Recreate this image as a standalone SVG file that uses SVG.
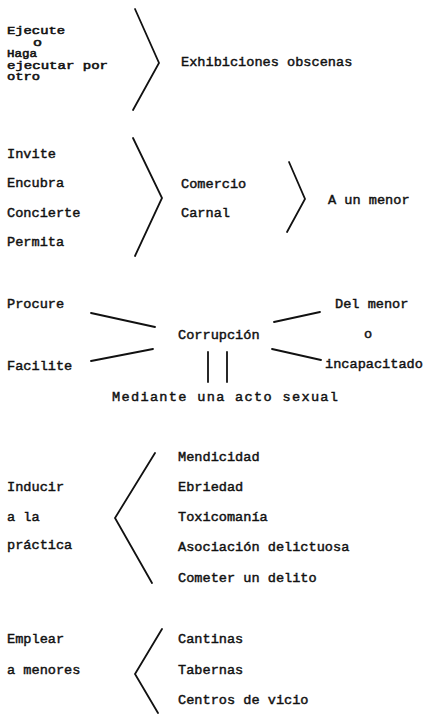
<svg xmlns="http://www.w3.org/2000/svg" width="436" height="714" viewBox="0 0 436 714">
<style>
text{font-family:"Liberation Mono","DejaVu Sans Mono",monospace;font-size:13.6px;fill:#111;stroke:#111;stroke-width:0.45}
text.sm{font-size:10px;stroke-width:0.5}
.ln{fill:none;stroke:#111;stroke-width:1.8;stroke-linecap:round;stroke-linejoin:miter}
</style>
<rect width="436" height="714" fill="#fff"/>
<g id="connectors">
<polyline class="ln" points="135,9 159,63 133,110"/>
<polyline class="ln" points="133,138 162,198 135,256"/>
<polyline class="ln" points="289,162 305,199 287,232"/>
<line class="ln" x1="91" y1="313" x2="155" y2="327"/>
<line class="ln" x1="91" y1="361" x2="153" y2="349"/>
<line class="ln" x1="274" y1="322" x2="320" y2="312"/>
<line class="ln" x1="272" y1="349" x2="321" y2="360"/>
<line class="ln" x1="208" y1="352" x2="208" y2="382"/>
<line class="ln" x1="227" y1="352" x2="227" y2="382"/>
<polyline class="ln" points="155,453 115,518 152,583"/>
<polyline class="ln" points="162,629 135,674 158,713"/>
</g>
<g id="n-ejecute">
<text class="sm" x="7" y="34" textLength="58" lengthAdjust="spacingAndGlyphs">Ejecute</text>
<text class="sm" x="33" y="45.5" textLength="9" lengthAdjust="spacingAndGlyphs">o</text>
<text class="sm" x="7" y="57" textLength="30" lengthAdjust="spacingAndGlyphs">Haga</text>
<text class="sm" x="7" y="68.5" textLength="101" lengthAdjust="spacingAndGlyphs">ejecutar por</text>
<text class="sm" x="7" y="80" textLength="33" lengthAdjust="spacingAndGlyphs">otro</text>
</g>
<g id="n-exhibiciones"><text x="181" y="66">Exhibiciones obscenas</text></g>
<g id="n-invite"><text x="7" y="158">Invite</text></g>
<g id="n-encubra"><text x="7" y="187">Encubra</text></g>
<g id="n-concierte"><text x="7" y="217">Concierte</text></g>
<g id="n-permita"><text x="7" y="246">Permita</text></g>
<g id="n-comercio"><text x="181" y="188">Comercio</text><text x="181" y="217">Carnal</text></g>
<g id="n-menor"><text x="328" y="204">A un menor</text></g>
<g id="n-procure"><text x="7" y="308">Procure</text></g>
<g id="n-facilite"><text x="7" y="370">Facilite</text></g>
<g id="n-corrupcion"><text x="178" y="339">Corrupción</text></g>
<g id="n-delmenor"><text x="335" y="308">Del menor</text><text x="364" y="338">o</text><text x="325" y="368">incapacitado</text></g>
<g id="n-mediante"><text x="112" y="401" textLength="226" lengthAdjust="spacing">Mediante una acto sexual</text></g>
<g id="n-inducir"><text x="7" y="491">Inducir</text><text x="7" y="521">a la</text><text x="7" y="549">práctica</text></g>
<g id="n-mendicidad"><text x="178" y="461">Mendicidad</text></g>
<g id="n-ebriedad"><text x="178" y="491">Ebriedad</text></g>
<g id="n-toxicomania"><text x="178" y="521">Toxicomanía</text></g>
<g id="n-asociacion"><text x="178" y="551">Asociación delictuosa</text></g>
<g id="n-cometer"><text x="178" y="582">Cometer un delito</text></g>
<g id="n-emplear"><text x="7" y="643">Emplear</text><text x="7" y="674">a menores</text></g>
<g id="n-cantinas"><text x="178" y="643">Cantinas</text></g>
<g id="n-tabernas"><text x="178" y="674">Tabernas</text></g>
<g id="n-centros"><text x="178" y="704">Centros de vicio</text></g>
</svg>
